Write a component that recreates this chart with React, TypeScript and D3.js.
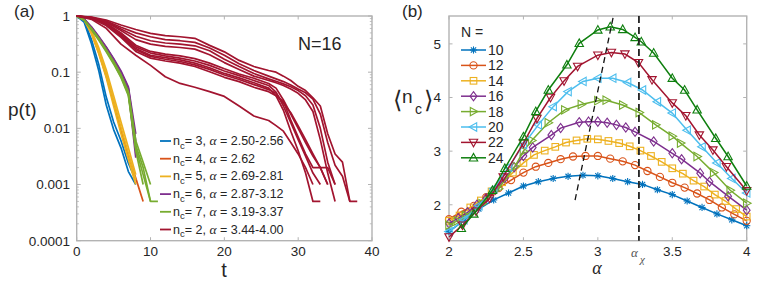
import React from 'react';
import * as d3 from 'd3';

// ---------------- Panel (a) data ----------------
const tTicksA = [0, 10, 20, 30, 40];
const pTicksA = [1, 0.1, 0.01, 0.001, 0.0001];
const pTickLabelsA = ['1', '0.1', '0.01', '0.001', '0.0001'];

// curves sampled at t = 0, 1, 2, ...
const blueCurves = [
  [1, 0.78, 0.32, 0.105, 0.026, 0.0095, 0.0045, 0.0017, 0.001],
  [1, 0.82, 0.38, 0.135, 0.036, 0.013, 0.006, 0.0024, 0.0012],
];
const orangeCurves = [
  [1, 0.86, 0.5, 0.22, 0.085, 0.03, 0.009, 0.0033, 0.0013, 0.0005],
];
const yellowCurves = [
  [1, 0.85, 0.48, 0.21, 0.08, 0.025, 0.008, 0.0028, 0.001],
  [1, 0.86, 0.52, 0.24, 0.095, 0.031, 0.0105, 0.0036, 0.0012],
  [1, 0.87, 0.55, 0.27, 0.11, 0.038, 0.013, 0.0045, 0.0015],
];
const purpleCurves = [
  [1, 0.88, 0.64, 0.43, 0.28, 0.175, 0.105, 0.055, 0.008],
  [1, 0.88, 0.63, 0.42, 0.275, 0.17, 0.1, 0.052, 0.006],
  [1, 0.87, 0.62, 0.41, 0.27, 0.165, 0.098, 0.05, 0.005],
  [1, 0.87, 0.62, 0.405, 0.265, 0.16, 0.095, 0.048, 0.004],
  [1, 0.87, 0.61, 0.4, 0.26, 0.158, 0.093, 0.046, 0.003],
];
const greenCurves = [
  [1, 0.86, 0.6, 0.4, 0.25, 0.155, 0.09, 0.045, 0.006, 0.0025, 0.001],
  [1, 0.85, 0.59, 0.39, 0.245, 0.15, 0.087, 0.042, 0.005, 0.002, 0.0005, 0.0005],
  [1, 0.85, 0.58, 0.38, 0.24, 0.145, 0.083, 0.04, 0.0045, 0.0015, 0.0005],
  [1, 0.84, 0.57, 0.37, 0.23, 0.14, 0.08, 0.038, 0.004, 0.001],
];
// red curves share this time grid (each may stop early)
const redTimes = [0, 2, 4, 6, 8, 10, 12, 14, 16, 18, 20, 22, 24, 26, 27, 28, 29, 30, 31, 32, 33, 34, 35, 36, 37, 38];
const redCurves = [
  [1, 0.955, 0.85, 0.69, 0.575, 0.49, 0.447, 0.427, 0.4, 0.3, 0.23, 0.162, 0.126, 0.107, 0.1, 0.085, 0.071, 0.056, 0.047, 0.035, 0.025, 0.008, 0.0035, 0.0025, 0.0005, 0.0005],
  [1, 0.944, 0.813, 0.631, 0.501, 0.427, 0.38, 0.363, 0.339, 0.269, 0.2, 0.141, 0.107, 0.085, 0.076, 0.068, 0.059, 0.05, 0.043, 0.033, 0.018, 0.0056, 0.0022, 0.0014, 0.0005],
  [1, 0.933, 0.794, 0.589, 0.437, 0.363, 0.331, 0.316, 0.295, 0.24, 0.17, 0.126, 0.095, 0.076, 0.069, 0.062, 0.055, 0.047, 0.038, 0.026, 0.01, 0.0025, 0.001],
  [1, 0.933, 0.776, 0.55, 0.38, 0.316, 0.288, 0.275, 0.257, 0.204, 0.148, 0.112, 0.085, 0.071, 0.065, 0.058, 0.05, 0.042, 0.032, 0.02, 0.0063, 0.0016, 0.0005],
  [1, 0.923, 0.741, 0.501, 0.302, 0.234, 0.209, 0.195, 0.174, 0.145, 0.115, 0.093, 0.078, 0.063, 0.052, 0.032, 0.018, 0.01, 0.0056, 0.0032, 0.002, 0.001],
  [1, 0.923, 0.724, 0.479, 0.282, 0.219, 0.195, 0.178, 0.158, 0.132, 0.105, 0.087, 0.071, 0.058, 0.044, 0.025, 0.0126, 0.0063, 0.0032, 0.0016, 0.001],
  [1, 0.912, 0.708, 0.457, 0.263, 0.2, 0.182, 0.166, 0.145, 0.12, 0.095, 0.079, 0.065, 0.052, 0.038, 0.021, 0.0089, 0.004, 0.0016, 0.0005, 0.0005],
  [1, 0.912, 0.692, 0.437, 0.251, 0.191, 0.17, 0.155, 0.135, 0.112, 0.089, 0.074, 0.06, 0.049, 0.042, 0.028, 0.019, 0.011, 0.0063, 0.0035, 0.002, 0.002, 0.001],
  [1, 0.902, 0.676, 0.417, 0.234, 0.178, 0.158, 0.145, 0.126, 0.102, 0.081, 0.068, 0.054, 0.045, 0.038, 0.03, 0.014, 0.007, 0.0035, 0.002, 0.002, 0.001],
  [1, 0.871, 0.603, 0.316, 0.2, 0.132, 0.083, 0.063, 0.054, 0.045, 0.037, 0.025, 0.0166, 0.0138, 0.0112, 0.0089, 0.0056, 0.0035, 0.002, 0.001],
];
const legendNc = ['3', '4', '5', '6', '7', '2'];
const legendAlpha = ['2.50-2.56', '2.62', '2.69-2.81', '2.87-3.12', '3.19-3.37', '3.44-4.00'];

// ---------------- Panel (b) data ----------------
const alphaTicksB = [2, 2.5, 3, 3.5, 4];
const alphaTickLabelsB = ['2', '2.5', '3', '3.5', '4'];
const ncTicksB = [2, 3, 4, 5];
const sizesN = [10, 12, 14, 16, 18, 20, 22, 24];

const alpha10 = [2.0, 2.1, 2.2, 2.3, 2.4, 2.5, 2.6, 2.7, 2.8, 2.9, 3.0, 3.1, 3.2, 3.3, 3.4, 3.5, 3.6, 3.7, 3.8, 3.9, 4.0];
const nc10 = [1.50, 1.71, 1.92, 2.09, 2.22, 2.35, 2.43, 2.49, 2.53, 2.55, 2.54, 2.49, 2.43, 2.38, 2.28, 2.19, 2.07, 1.95, 1.83, 1.72, 1.61];
const alpha12 = [2.0, 2.083, 2.167, 2.25, 2.333, 2.417, 2.5, 2.583, 2.667, 2.75, 2.833, 2.917, 3.0, 3.083, 3.167, 3.25, 3.333, 3.417, 3.5, 3.583, 3.667, 3.75, 3.833, 3.917, 4.0];
const nc12 = [1.73, 1.87, 1.98, 2.14, 2.31, 2.46, 2.60, 2.71, 2.78, 2.85, 2.90, 2.91, 2.91, 2.86, 2.81, 2.74, 2.63, 2.52, 2.41, 2.32, 2.21, 2.09, 1.95, 1.82, 1.70];
const alpha14 = [2.0, 2.071, 2.143, 2.214, 2.286, 2.357, 2.429, 2.5, 2.571, 2.643, 2.714, 2.786, 2.857, 2.929, 3.0, 3.071, 3.143, 3.214, 3.286, 3.357, 3.429, 3.5, 3.571, 3.643, 3.714, 3.786, 3.857, 3.929, 4.0];
const nc14 = [1.70, 1.80, 1.95, 2.08, 2.25, 2.42, 2.60, 2.78, 2.93, 3.01, 3.08, 3.16, 3.20, 3.23, 3.22, 3.19, 3.15, 3.09, 3.01, 2.91, 2.80, 2.68, 2.58, 2.45, 2.34, 2.19, 2.07, 1.92, 1.78];
const alpha16 = [2.0, 2.0625, 2.125, 2.1875, 2.25, 2.3125, 2.375, 2.4375, 2.5, 2.5625, 2.6875, 2.75, 2.875, 2.9375, 3.0, 3.0625, 3.125, 3.1875, 3.25, 3.375, 3.5, 3.5625, 3.6875, 3.75, 3.875, 4.0];
const nc16 = [1.65, 1.75, 1.86, 2.0, 2.12, 2.28, 2.5, 2.7, 2.91, 3.07, 3.30, 3.43, 3.54, 3.55, 3.55, 3.53, 3.49, 3.44, 3.36, 3.18, 2.96, 2.85, 2.59, 2.43, 2.16, 1.90];
const alpha18 = [2.0, 2.056, 2.111, 2.222, 2.333, 2.444, 2.5, 2.556, 2.667, 2.778, 2.889, 3.0, 3.056, 3.167, 3.278, 3.389, 3.5, 3.556, 3.667, 3.778, 3.889, 4.0];
const nc18 = [1.62, 1.70, 1.80, 2.02, 2.30, 2.72, 3.0, 3.2, 3.53, 3.77, 3.87, 3.94, 3.95, 3.86, 3.72, 3.49, 3.28, 3.15, 2.90, 2.60, 2.27, 2.03];
const alpha20 = [2.0, 2.1, 2.2, 2.3, 2.4, 2.5, 2.6, 2.7, 2.8, 2.9, 3.0, 3.1, 3.2, 3.3, 3.4, 3.5, 3.6, 3.7, 3.8, 3.9, 4.0];
const nc20 = [1.50, 1.72, 1.98, 2.30, 2.70, 3.12, 3.49, 3.83, 4.11, 4.30, 4.36, 4.36, 4.28, 4.14, 3.92, 3.71, 3.39, 3.08, 2.78, 2.49, 2.22];
const alpha22 = [2.0, 2.091, 2.182, 2.273, 2.364, 2.5, 2.591, 2.682, 2.773, 2.864, 3.0, 3.091, 3.182, 3.273, 3.364, 3.5, 3.591, 3.682, 3.773, 3.864, 4.0];
const nc22 = [1.40, 1.62, 1.88, 2.12, 2.52, 3.15, 3.61, 4.0, 4.31, 4.58, 4.79, 4.84, 4.81, 4.65, 4.33, 3.90, 3.66, 3.30, 3.02, 2.71, 2.26];
const alpha24 = [2.083, 2.167, 2.292, 2.375, 2.5, 2.583, 2.667, 2.792, 2.875, 3.0, 3.083, 3.167, 3.25, 3.292, 3.375, 3.5, 3.583, 3.667, 3.792, 3.875, 4.0];
const nc24 = [1.56, 1.83, 2.27, 2.68, 3.27, 3.74, 4.14, 4.61, 5.01, 5.26, 5.32, 5.27, 5.12, 5.04, 4.83, 4.36, 4.14, 3.77, 3.24, 2.90, 2.35];

const alphaChi = 3.276;
const slantAlpha = [2.847, 3.104];
const slantNc = [2.088, 5.51];

// ---------------- styles ----------------
const FONT = "'Liberation Sans', Arial, Helvetica, sans-serif";
const SERIF = "'Liberation Serif', 'DejaVu Serif', serif";
const BOX = '#b3b3b3';
const TXT = '#262626';
const colA = { blue: '#0072BD', orange: '#D95319', yellow: '#EDB120', purple: '#7E2F8E', green: '#77AC30', red: '#A2142F' };
const legendColA = [colA.blue, colA.orange, colA.yellow, colA.purple, colA.green, colA.red];
const colB = ['#0072BD', '#D95319', '#EDB120', '#7E2F8E', '#77AC30', '#4DBEEE', '#A2142F', '#0E7F0E'];
const markB = ['asterisk', 'circle', 'square', 'diamond', 'triR', 'triL', 'triD', 'triU'];

function Marker({ type, x, y, c }: { type: string; x: number; y: number; c: string }) {
  const sw = 1.1;
  const common = { fill: 'none', stroke: c, strokeWidth: sw } as any;
  const tr = `translate(${x},${y})`;
  switch (type) {
    case 'asterisk':
      return (
        <g transform={tr} stroke={c} strokeWidth={1.1}>
          <line x1={-3.6} y1={0} x2={3.6} y2={0} />
          <line x1={0} y1={-3.6} x2={0} y2={3.6} />
          <line x1={-2.6} y1={-2.6} x2={2.6} y2={2.6} />
          <line x1={-2.6} y1={2.6} x2={2.6} y2={-2.6} />
        </g>
      );
    case 'circle':
      return <circle cx={x} cy={y} r={3.6} {...common} />;
    case 'square':
      return <rect x={x - 3.3} y={y - 3.3} width={6.6} height={6.6} {...common} />;
    case 'diamond':
      return <path transform={tr} d="M0,-4.6L3.4,0L0,4.6L-3.4,0Z" {...common} />;
    case 'triR':
      return <path transform={tr} d="M-3.2,-4.2L4.4,0L-3.2,4.2Z" {...common} />;
    case 'triL':
      return <path transform={tr} d="M3.2,-4.2L-4.4,0L3.2,4.2Z" {...common} />;
    case 'triD':
      return <path transform={tr} d="M-4.2,-3.2L4.2,-3.2L0,4.4Z" {...common} />;
    default:
      return <path transform={tr} d="M-4.2,3.2L4.2,3.2L0,-4.4Z" {...common} />;
  }
}

export default function App() {
  // ---- panel (a) scales ----
  const xA = d3.scaleLinear().domain([0, 40]).range([76.7, 372]);
  const yA = d3.scaleLog().domain([1e-4, 1]).range([240.7, 16]);
  const lineA = d3.line<[number, number]>().x((d) => xA(d[0])).y((d) => yA(d[1]));
  const idxCurve = (vals: number[]) => lineA(vals.map((v, i) => [i, v] as [number, number])) || '';
  const redCurve = (vals: number[]) => lineA(vals.map((v, i) => [redTimes[i], v] as [number, number])) || '';

  const minorA: number[] = [];
  for (let k = -4; k < 0; k++) for (let m = 2; m <= 9; m++) minorA.push(m * Math.pow(10, k));

  // ---- panel (b) scales ----
  const xB = d3.scaleLinear().domain([2, 4]).range([449, 746.7]);
  const yB = d3.scaleLinear().domain([1.33, 5.52]).range([240.7, 16]);
  const lineB = d3.line<[number, number]>().x((d) => xB(d[0])).y((d) => yB(d[1]));
  const seriesB = [
    [alpha10, nc10], [alpha12, nc12], [alpha14, nc14], [alpha16, nc16],
    [alpha18, nc18], [alpha20, nc20], [alpha22, nc22], [alpha24, nc24],
  ];

  const [ax0, ax1] = xA.range();
  const [ay0, ay1] = [yA(1), yA(1e-4)];
  const [bx0, bx1] = xB.range();
  const [by0, by1] = [yB(5.52), yB(1.33)];

  const legA0 = 141;
  const legAStep = 17.7;

  return (
    <svg width={761} height={281} style={{ display: 'block', position: 'absolute', left: 0, top: 0 }} fontFamily={FONT}>
      <rect x={0} y={0} width={761} height={281} fill="#fff" />
      {/* ================= PANEL (a) ================= */}
      <text x={14} y={17} fontSize={17} fill={TXT}>(a)</text>
      <rect x={ax0} y={ay0} width={ax1 - ax0} height={ay1 - ay0} fill="none" stroke={BOX} strokeWidth={1.4} />
      {tTicksA.map((t) => (
        <g key={'xa' + t}>
          <line x1={xA(t)} x2={xA(t)} y1={ay1} y2={ay1 - 3.5} stroke={BOX} />
          <line x1={xA(t)} x2={xA(t)} y1={ay0} y2={ay0 + 3.5} stroke={BOX} />
          <text x={xA(t)} y={256} fontSize={13.5} textAnchor="middle" fill={TXT}>{t}</text>
        </g>
      ))}
      {pTicksA.map((p, i) => (
        <g key={'ya' + p}>
          <line x1={ax0} x2={ax0 + 4} y1={yA(p)} y2={yA(p)} stroke={BOX} />
          <line x1={ax1} x2={ax1 - 4} y1={yA(p)} y2={yA(p)} stroke={BOX} />
          <text x={70} y={yA(p) + 4.8} fontSize={13.5} textAnchor="end" fill={TXT}>{pTickLabelsA[i]}</text>
        </g>
      ))}
      {minorA.map((p) => (
        <g key={'ma' + p}>
          <line x1={ax0} x2={ax0 + 2.2} y1={yA(p)} y2={yA(p)} stroke={BOX} strokeWidth={0.8} />
          <line x1={ax1} x2={ax1 - 2.2} y1={yA(p)} y2={yA(p)} stroke={BOX} strokeWidth={0.8} />
        </g>
      ))}
      <text x={224} y={277} fontSize={20} textAnchor="middle" fill={TXT}>t</text>
      <text x={8} y={116} fontSize={19} fill={TXT}>p(t)</text>
      <text x={298} y={50} fontSize={18} fill={TXT}>N=16</text>
      <g fill="none" strokeWidth={1.7} strokeLinejoin="round">
        {blueCurves.map((c, i) => <path key={'b' + i} d={idxCurve(c)} stroke={colA.blue} />)}
        {orangeCurves.map((c, i) => <path key={'o' + i} d={idxCurve(c)} stroke={colA.orange} />)}
        {yellowCurves.map((c, i) => <path key={'y' + i} d={idxCurve(c)} stroke={colA.yellow} />)}
        {purpleCurves.map((c, i) => <path key={'p' + i} d={idxCurve(c)} stroke={colA.purple} />)}
        {greenCurves.map((c, i) => <path key={'g' + i} d={idxCurve(c)} stroke={colA.green} />)}
        {redCurves.map((c, i) => <path key={'r' + i} d={redCurve(c)} stroke={colA.red} />)}
      </g>
      {legendNc.map((nc, i) => {
        const yy = legA0 + i * legAStep;
        return (
          <g key={'la' + i}>
            <line x1={160} x2={171} y1={yy} y2={yy} stroke={legendColA[i]} strokeWidth={1.8} />
            <text x={173} y={yy + 4} fontSize={12.5} fill={TXT}>
              n<tspan dy={3.5} fontSize={9.5}>c</tspan>
              <tspan dy={-3.5}>{'= ' + nc + ', '}</tspan>
              <tspan fontFamily={SERIF} fontStyle="italic" fontSize={13.5}>α</tspan>
              <tspan>{' = ' + legendAlpha[i]}</tspan>
            </text>
          </g>
        );
      })}

      {/* ================= PANEL (b) ================= */}
      <text x={402} y={17} fontSize={17} fill={TXT}>(b)</text>
      <rect x={bx0} y={by0} width={bx1 - bx0} height={by1 - by0} fill="none" stroke={BOX} strokeWidth={1.4} />
      {alphaTicksB.map((a, i) => (
        <g key={'xb' + a}>
          <line x1={xB(a)} x2={xB(a)} y1={by1} y2={by1 - 3.5} stroke={BOX} />
          <line x1={xB(a)} x2={xB(a)} y1={by0} y2={by0 + 3.5} stroke={BOX} />
          <text x={xB(a)} y={256} fontSize={13.5} textAnchor="middle" fill={TXT}>{alphaTickLabelsB[i]}</text>
        </g>
      ))}
      {ncTicksB.map((v) => (
        <g key={'yb' + v}>
          <line x1={bx0} x2={bx0 + 3.5} y1={yB(v)} y2={yB(v)} stroke={BOX} />
          <line x1={bx1} x2={bx1 - 3.5} y1={yB(v)} y2={yB(v)} stroke={BOX} />
          <text x={441} y={yB(v) + 4.8} fontSize={13.5} textAnchor="end" fill={TXT}>{v}</text>
        </g>
      ))}
      <text x={597} y={274} fontSize={18} textAnchor="middle" fontFamily={SERIF} fontStyle="italic" fill={TXT}>α</text>
      <text x={631} y={257} fontSize={13} fontFamily={SERIF} fontStyle="italic" fill="#555">α</text>
      <text x={640} y={263} fontSize={11} fontFamily={SERIF} fontStyle="italic" fill="#555">χ</text>
      <text x={393} y={108} fontSize={24} fontFamily="'DejaVu Sans', sans-serif" fontWeight={200} fill={TXT}>⟨</text>
      <text x={402} y={103} fontSize={19} fill={TXT}>n</text>
      <text x={415} y={114} fontSize={14} fill={TXT}>c</text>
      <text x={424} y={108} fontSize={24} fontFamily="'DejaVu Sans', sans-serif" fontWeight={200} fill={TXT}>⟩</text>

      {seriesB.map(([al, nc], si) => {
        const pts = al.map((a, i) => [a, nc[i]] as [number, number]);
        return (
          <g key={'sb' + si}>
            <path d={lineB(pts) || ''} fill="none" stroke={colB[si]} strokeWidth={1.5} />
            {pts.map((p, j) => (
              <Marker key={j} type={markB[si]} x={xB(p[0])} y={yB(p[1])} c={colB[si]} />
            ))}
          </g>
        );
      })}
      <line x1={xB(alphaChi)} x2={xB(alphaChi)} y1={by0} y2={by1} stroke="#222" strokeWidth={1.8} strokeDasharray="7,4" />
      <line x1={xB(slantAlpha[0])} y1={yB(slantNc[0])} x2={xB(slantAlpha[1])} y2={yB(slantNc[1])} stroke="#111" strokeWidth={1.3} strokeDasharray="6,4" />

      <text x={461} y={37} fontSize={14} fill={TXT}>N =</text>
      {sizesN.map((n, i) => {
        const yy = 50 + i * 15.4;
        return (
          <g key={'lb' + n}>
            <line x1={461} x2={486} y1={yy} y2={yy} stroke={colB[i]} strokeWidth={1.5} />
            <Marker type={markB[i]} x={473.5} y={yy} c={colB[i]} />
            <text x={488} y={yy + 5} fontSize={14} fill={TXT}>{n}</text>
          </g>
        );
      })}
    </svg>
  );
}
